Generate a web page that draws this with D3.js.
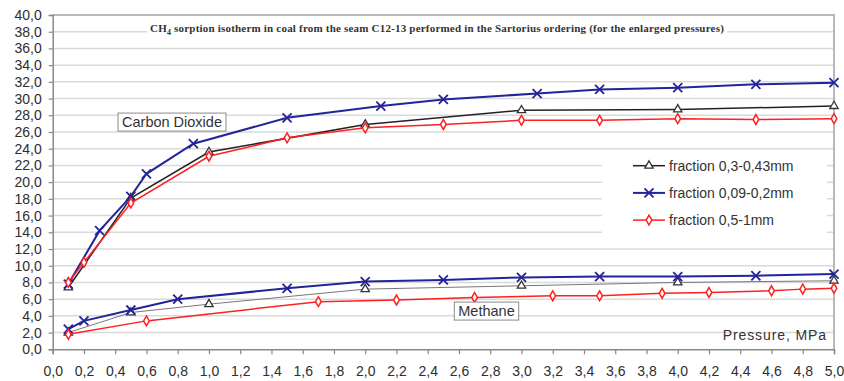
<!DOCTYPE html>
<html>
<head>
<meta charset="utf-8">
<script src="https://cdn.jsdelivr.net/npm/d3@7"></script>
<style>
  html, body { margin: 0; padding: 0; background: #fff; }
  svg { display: block; font-family: "Liberation Sans", Arial, sans-serif; }
</style>
</head>
<body>
<svg id="chart" width="844" height="381"></svg>
<script>
// Sorption isotherms, pressure in MPa, sorption values
const xTicks = d3.range(0, 5.01, 0.2);
const yTicks = d3.range(0, 40.1, 2);

// Carbon dioxide
const co2P_043 = [0.1, 0.5, 1.0, 2.0, 3.0, 4.0, 5.0];
const co2V_043 = [7.4, 18.1, 23.6, 26.9, 28.6, 28.7, 29.1];
const co2P_02 = [0.1, 0.3, 0.5, 0.6, 0.9, 1.5, 2.1, 2.5, 3.1, 3.5, 4.0, 4.5, 5.0];
const co2V_02 = [7.8, 14.2, 18.3, 21.0, 24.6, 27.7, 29.1, 29.9, 30.6, 31.1, 31.3, 31.7, 31.9];
const co2P_1 = [0.1, 0.2, 0.5, 1.0, 1.5, 2.0, 2.5, 3.0, 3.5, 4.0, 4.5, 5.0];
const co2V_1 = [8.0, 10.4, 17.5, 23.1, 25.3, 26.5, 26.9, 27.4, 27.4, 27.6, 27.5, 27.6];

// Methane
const ch4P_043 = [0.1, 0.5, 1.0, 2.0, 3.0, 4.0, 5.0];
const ch4V_043 = [2.0, 4.4, 5.4, 7.2, 7.6, 8.0, 8.2];
const ch4P_02 = [0.1, 0.2, 0.5, 0.8, 1.5, 2.0, 2.5, 3.0, 3.5, 4.0, 4.5, 5.0];
const ch4V_02 = [2.4, 3.4, 4.7, 6.0, 7.3, 8.1, 8.3, 8.6, 8.7, 8.7, 8.8, 9.0];
const ch4P_1 = [0.1, 0.6, 1.7, 2.2, 2.7, 3.2, 3.5, 3.9, 4.2, 4.6, 4.8, 5.0];
const ch4V_1 = [1.8, 3.4, 5.7, 5.9, 6.2, 6.4, 6.4, 6.7, 6.8, 7.0, 7.2, 7.3];

const legendLabels = ["fraction 0,3-0,43mm", "fraction 0,09-0,2mm", "fraction 0,5-1mm"];

const svg = d3.select("#chart");
const plotL = 52.7, plotR = 834, plotT = 15, plotB = 349.3;

const x = d3.scaleLinear().domain([0, 5]).range([plotL, plotR]);
const y = d3.scaleLinear().domain([0, 40]).range([plotB, plotT]);
const fmt = d => d.toFixed(1).replace(".", ",");

// grid
svg.append("g")
  .selectAll("line")
  .data(yTicks.filter(d => d > 0 && d < 40))
  .enter().append("line")
  .attr("x1", plotL).attr("x2", plotR)
  .attr("y1", d => y(d)).attr("y2", d => y(d))
  .attr("stroke", "#d9d9d9").attr("stroke-width", 1.5);

// frame (top / right)
svg.append("path")
  .attr("d", `M${plotL},${plotT}H${plotR}V${plotB}`)
  .attr("fill", "none").attr("stroke", "#b8b8b8").attr("stroke-width", 2);

// axes
const yAxis = svg.append("g")
  .attr("transform", `translate(${plotL},0)`)
  .call(d3.axisLeft(y).tickValues(yTicks).tickFormat(fmt).tickSize(4).tickPadding(7));
const xAxis = svg.append("g")
  .attr("transform", `translate(0,${plotB})`)
  .call(d3.axisBottom(x).tickValues(xTicks).tickFormat(fmt).tickSize(5).tickPadding(12));

[yAxis, xAxis].forEach(g => {
  g.select(".domain").attr("stroke", "#888").attr("stroke-width", 1.5);
  g.selectAll(".tick line").attr("stroke", "#888").attr("stroke-width", 1.2);
  g.selectAll(".tick text")
    .attr("font-family", "'Liberation Sans', Arial, sans-serif")
    .attr("font-size", 14).attr("fill", "#2e2e2e");
});

// title with white background
const title = svg.append("text")
  .attr("x", 437).attr("y", 32)
  .attr("text-anchor", "middle")
  .attr("font-family", "'Liberation Serif', 'Times New Roman', serif")
  .attr("font-weight", "bold").attr("font-size", 11).attr("letter-spacing", 0.2)
  .attr("fill", "#333");
title.append("tspan").text("CH");
title.append("tspan").attr("font-size", 8).attr("dy", 3).text("4");
title.append("tspan").attr("dy", -3)
  .text(" sorption isotherm in coal from the seam C12-13 performed in the Sartorius ordering (for the enlarged pressures)");
const tb = title.node().getBBox();
svg.insert("rect", () => title.node())
  .attr("x", tb.x - 3).attr("y", tb.y - 1)
  .attr("width", tb.width + 6).attr("height", tb.height + 2)
  .attr("fill", "#fff");

// series
const series = [
  { p: co2P_043, v: co2V_043, color: "#222", width: 1.5, mark: "tri" },
  { p: co2P_02, v: co2V_02, color: "#23239a", width: 2, mark: "x" },
  { p: co2P_1, v: co2V_1, color: "#ff1f1f", width: 1.5, mark: "dia" },
  { p: ch4P_043, v: ch4V_043, color: "#777", width: 1, mark: "tri" },
  { p: ch4P_02, v: ch4V_02, color: "#23239a", width: 2, mark: "x" },
  { p: ch4P_1, v: ch4V_1, color: "#ff1f1f", width: 1.5, mark: "dia" }
];

const line = d3.line().x(d => x(d[0])).y(d => y(d[1]));
const symX = d3.symbolTimes || d3.symbolX || d3.symbolCross;

function drawMarker(g, kind, color) {
  if (kind === "tri") {
    g.append("path").attr("d", d3.symbol(d3.symbolTriangle, 30)())
      .attr("fill", "#fff").attr("stroke", "#333").attr("stroke-width", 1.3);
  } else if (kind === "x") {
    g.append("path").attr("d", d3.symbol(symX, 55)())
      .attr("fill", "none").attr("stroke", color).attr("stroke-width", 1.8);
  } else {
    g.append("path").attr("d", d3.symbol(d3.symbolDiamond, 28)())
      .attr("fill", "#fff").attr("stroke", color).attr("stroke-width", 1.5);
  }
}

series.forEach(s => {
  const pts = s.p.map((p, i) => [p, s.v[i]]);
  svg.append("path").datum(pts)
    .attr("d", line)
    .attr("fill", "none").attr("stroke", s.color).attr("stroke-width", s.width);
  pts.forEach(d => {
    const g = svg.append("g").attr("transform", `translate(${x(d[0])},${y(d[1])})`);
    drawMarker(g, s.mark, s.color);
  });
});

// annotation boxes
function labelBox(cx, cy, txt) {
  const t = svg.append("text")
    .attr("x", cx).attr("y", cy).attr("dy", "0.35em")
    .attr("text-anchor", "middle").attr("font-size", 14.5).attr("fill", "#333")
    .text(txt);
  const b = t.node().getBBox();
  svg.insert("rect", () => t.node())
    .attr("x", b.x - 4).attr("y", b.y - 1)
    .attr("width", b.width + 8).attr("height", b.height + 2)
    .attr("fill", "#fff").attr("stroke", "#8a8a8a").attr("stroke-width", 1);
}
labelBox(172, 122, "Carbon Dioxide");
labelBox(486.5, 311, "Methane");

svg.append("text")
  .attr("x", 827).attr("y", 340).attr("text-anchor", "end")
  .attr("font-size", 14).attr("letter-spacing", 0.9).attr("fill", "#333")
  .text("Pressure, MPa");

// legend
const legend = svg.append("g");
legend.append("rect")
  .attr("x", 602).attr("y", 153).attr("width", 225).attr("height", 85)
  .attr("fill", "#fff");
legendLabels.forEach((lab, i) => {
  const s = series[i];
  const ly = 165.7 + i * 27.2;
  legend.append("line")
    .attr("x1", 633).attr("x2", 665).attr("y1", ly).attr("y2", ly)
    .attr("stroke", s.color).attr("stroke-width", s.width);
  drawMarker(legend.append("g").attr("transform", `translate(649,${ly})`), s.mark, s.color);
  legend.append("text")
    .attr("x", 669).attr("y", ly).attr("dy", "0.35em")
    .attr("font-size", 14).attr("fill", "#333")
    .text(lab);
});
</script>
</body>
</html>
